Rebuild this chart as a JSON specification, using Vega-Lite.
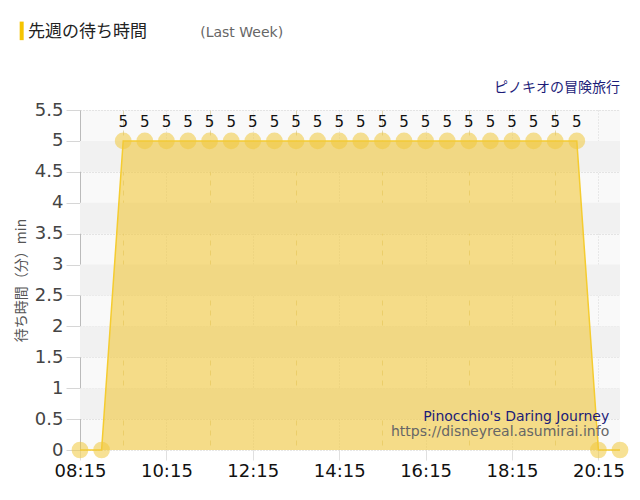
{
  "$schema": "https://vega.github.io/schema/vega-lite/v6.json",
  "width": 540,
  "height": 340,
  "autosize": {"type": "none"},
  "padding": {"left": 80, "top": 110, "right": 20, "bottom": 50},
  "background": "white",
  "config": {
    "view": {"stroke": null, "fill": "#f9f9f9"},
    "font": "DejaVu Sans",
    "axisY": {
      "titleFont": "Noto Sans CJK JP",
      "titleFontSize": 14,
      "titleFontWeight": "normal",
      "titleColor": "#555",
      "titlePadding": 6,
      "labelFontSize": 18,
      "labelColor": "#444",
      "labelPadding": 3,
      "labelOverlap": false,
      "tickSize": 14,
      "tickColor": "#d6d6d6",
      "domainColor": "#bbb",
      "gridColor": "#cfcfcf",
      "gridDash": [1, 2]
    }
  },
  "title": {
    "text": "先週の待ち時間",
    "anchor": "start",
    "frame": "group",
    "dx": -52,
    "offset": -21,
    "font": "Noto Sans CJK JP",
    "fontSize": 17,
    "fontWeight": "normal",
    "color": "#222"
  },
  "datasets": {
    "waits": [
      {"time": "2024-01-01 08:15", "wait": 0},
      {"time": "2024-01-01 08:45", "wait": 0},
      {"time": "2024-01-01 09:15", "wait": 5},
      {"time": "2024-01-01 09:45", "wait": 5},
      {"time": "2024-01-01 10:15", "wait": 5},
      {"time": "2024-01-01 10:45", "wait": 5},
      {"time": "2024-01-01 11:15", "wait": 5},
      {"time": "2024-01-01 11:45", "wait": 5},
      {"time": "2024-01-01 12:15", "wait": 5},
      {"time": "2024-01-01 12:45", "wait": 5},
      {"time": "2024-01-01 13:15", "wait": 5},
      {"time": "2024-01-01 13:45", "wait": 5},
      {"time": "2024-01-01 14:15", "wait": 5},
      {"time": "2024-01-01 14:45", "wait": 5},
      {"time": "2024-01-01 15:15", "wait": 5},
      {"time": "2024-01-01 15:45", "wait": 5},
      {"time": "2024-01-01 16:15", "wait": 5},
      {"time": "2024-01-01 16:45", "wait": 5},
      {"time": "2024-01-01 17:15", "wait": 5},
      {"time": "2024-01-01 17:45", "wait": 5},
      {"time": "2024-01-01 18:15", "wait": 5},
      {"time": "2024-01-01 18:45", "wait": 5},
      {"time": "2024-01-01 19:15", "wait": 5},
      {"time": "2024-01-01 19:45", "wait": 5},
      {"time": "2024-01-01 20:15", "wait": 0},
      {"time": "2024-01-01 20:45", "wait": 0}
    ],
    "bands": [
      {"lo": 0.5, "hi": 1},
      {"lo": 1.5, "hi": 2},
      {"lo": 2.5, "hi": 3},
      {"lo": 3.5, "hi": 4},
      {"lo": 4.5, "hi": 5}
    ]
  },
  "layer": [
    {
      "data": {"name": "bands"},
      "mark": {"type": "rect", "color": "#f1f1f1"},
      "encoding": {
        "y": {
          "field": "lo",
          "type": "quantitative",
          "scale": {"domain": [0, 5.5], "nice": false},
          "axis": {"title": "待ち時間（分）min", "format": "~g", "values": [0, 0.5, 1, 1.5, 2, 2.5, 3, 3.5, 4, 4.5, 5, 5.5]}
        },
        "y2": {"field": "hi"}
      }
    },
    {
      "data": {"name": "waits"},
      "mark": {
        "type": "area",
        "color": "#f2c83c",
        "opacity": 0.6,
        "line": {"color": "#f5cc30", "strokeWidth": 1.5, "opacity": 1}
      },
      "encoding": {
        "x": {
          "field": "time",
          "type": "temporal",
          "scale": {
            "domain": [
              {"year": 2024, "month": 1, "date": 1, "hours": 8, "minutes": 15},
              {"year": 2024, "month": 1, "date": 1, "hours": 20, "minutes": 45}
            ]
          },
          "axis": {
            "title": null,
            "values": [
              {"year": 2024, "month": 1, "date": 1, "hours": 8, "minutes": 15},
              {"year": 2024, "month": 1, "date": 1, "hours": 8, "minutes": 45},
              {"year": 2024, "month": 1, "date": 1, "hours": 9, "minutes": 15},
              {"year": 2024, "month": 1, "date": 1, "hours": 9, "minutes": 45},
              {"year": 2024, "month": 1, "date": 1, "hours": 10, "minutes": 15},
              {"year": 2024, "month": 1, "date": 1, "hours": 10, "minutes": 45},
              {"year": 2024, "month": 1, "date": 1, "hours": 11, "minutes": 15},
              {"year": 2024, "month": 1, "date": 1, "hours": 11, "minutes": 45},
              {"year": 2024, "month": 1, "date": 1, "hours": 12, "minutes": 15},
              {"year": 2024, "month": 1, "date": 1, "hours": 12, "minutes": 45},
              {"year": 2024, "month": 1, "date": 1, "hours": 13, "minutes": 15},
              {"year": 2024, "month": 1, "date": 1, "hours": 13, "minutes": 45},
              {"year": 2024, "month": 1, "date": 1, "hours": 14, "minutes": 15},
              {"year": 2024, "month": 1, "date": 1, "hours": 14, "minutes": 45},
              {"year": 2024, "month": 1, "date": 1, "hours": 15, "minutes": 15},
              {"year": 2024, "month": 1, "date": 1, "hours": 15, "minutes": 45},
              {"year": 2024, "month": 1, "date": 1, "hours": 16, "minutes": 15},
              {"year": 2024, "month": 1, "date": 1, "hours": 16, "minutes": 45},
              {"year": 2024, "month": 1, "date": 1, "hours": 17, "minutes": 15},
              {"year": 2024, "month": 1, "date": 1, "hours": 17, "minutes": 45},
              {"year": 2024, "month": 1, "date": 1, "hours": 18, "minutes": 15},
              {"year": 2024, "month": 1, "date": 1, "hours": 18, "minutes": 45},
              {"year": 2024, "month": 1, "date": 1, "hours": 19, "minutes": 15},
              {"year": 2024, "month": 1, "date": 1, "hours": 19, "minutes": 45},
              {"year": 2024, "month": 1, "date": 1, "hours": 20, "minutes": 15},
              {"year": 2024, "month": 1, "date": 1, "hours": 20, "minutes": 45}
            ],
            "labelExpr": "hours(datum.value) % 2 == 0 && minutes(datum.value) == 15 ? timeFormat(datum.value, '%H:%M') : ''",
            "labelFontSize": 18,
            "labelColor": "#111",
            "labelPadding": 2,
            "labelFlush": false,
            "labelOverlap": false,
            "domain": false,
            "grid": true,
            "gridColor": {"condition": {"test": "hours(datum.value) % 2 == 0 && minutes(datum.value) == 15", "value": "#d6d6d6"}, "value": "#e0d6b0"},
            "gridDash": {"condition": {"test": "hours(datum.value) % 2 == 0 && minutes(datum.value) == 15", "value": [1, 2]}, "value": [5, 5]},
            "tickSize": 10,
            "tickColor": "#e0e0e0",
            "tickOpacity": {"condition": {"test": "hours(datum.value) % 2 == 0 && minutes(datum.value) == 15", "value": 1}, "value": 0}
          }
        },
        "y": {
          "field": "wait",
          "type": "quantitative",
          "axis": {"title": "待ち時間（分）min", "format": "~g", "values": [0, 0.5, 1, 1.5, 2, 2.5, 3, 3.5, 4, 4.5, 5, 5.5]}
        }
      }
    },
    {
      "data": {"name": "waits"},
      "mark": {"type": "circle", "size": 280, "color": "#f0c83c", "opacity": 0.55},
      "encoding": {
        "x": {"field": "time", "type": "temporal"},
        "y": {
          "field": "wait",
          "type": "quantitative",
          "axis": {"title": "待ち時間（分）min", "format": "~g", "values": [0, 0.5, 1, 1.5, 2, 2.5, 3, 3.5, 4, 4.5, 5, 5.5]}
        }
      }
    },
    {
      "data": {"name": "waits"},
      "transform": [{"filter": "datum.wait > 0"}],
      "mark": {"type": "text", "dy": -19, "fontSize": 15, "color": "#111"},
      "encoding": {
        "x": {"field": "time", "type": "temporal"},
        "y": {
          "field": "wait",
          "type": "quantitative",
          "axis": {"title": "待ち時間（分）min", "format": "~g", "values": [0, 0.5, 1, 1.5, 2, 2.5, 3, 3.5, 4, 4.5, 5, 5.5]}
        },
        "text": {"field": "wait", "type": "quantitative"}
      }
    },
    {
      "data": {"values": [{}]},
      "mark": {"type": "text", "text": "Pinocchio's Daring Journey", "align": "right", "baseline": "alphabetic", "fontSize": 14, "color": "#1c1c78"},
      "encoding": {
        "x": {"datum": {"year": 2024, "month": 1, "date": 1, "hours": 20, "minutes": 30}, "type": "temporal"},
        "y": {
          "datum": 0.47,
          "type": "quantitative",
          "axis": {"title": "待ち時間（分）min", "format": "~g", "values": [0, 0.5, 1, 1.5, 2, 2.5, 3, 3.5, 4, 4.5, 5, 5.5]}
        }
      }
    },
    {
      "data": {"values": [{}]},
      "mark": {"type": "text", "text": "https://disneyreal.asumirai.info", "align": "right", "baseline": "alphabetic", "fontSize": 14, "color": "#666"},
      "encoding": {
        "x": {"datum": {"year": 2024, "month": 1, "date": 1, "hours": 20, "minutes": 30}, "type": "temporal"},
        "y": {
          "datum": 0.23,
          "type": "quantitative",
          "axis": {"title": "待ち時間（分）min", "format": "~g", "values": [0, 0.5, 1, 1.5, 2, 2.5, 3, 3.5, 4, 4.5, 5, 5.5]}
        }
      }
    },
    {
      "data": {"values": [{}]},
      "mark": {"type": "text", "text": "ピノキオの冒険旅行", "align": "right", "baseline": "alphabetic", "font": "Noto Sans CJK JP", "fontSize": 14, "color": "#1c1c78"},
      "encoding": {
        "x": {"datum": {"year": 2024, "month": 1, "date": 1, "hours": 20, "minutes": 45}, "type": "temporal"},
        "y": {
          "datum": 5.79,
          "type": "quantitative",
          "axis": {"title": "待ち時間（分）min", "format": "~g", "values": [0, 0.5, 1, 1.5, 2, 2.5, 3, 3.5, 4, 4.5, 5, 5.5]}
        }
      }
    },
    {
      "data": {"values": [{}]},
      "mark": {"type": "text", "text": "(Last Week)", "align": "left", "baseline": "alphabetic", "fontSize": 14, "color": "#666"},
      "encoding": {
        "x": {"datum": {"year": 2024, "month": 1, "date": 1, "hours": 11, "minutes": 2}, "type": "temporal"},
        "y": {
          "datum": 6.68,
          "type": "quantitative",
          "axis": {"title": "待ち時間（分）min", "format": "~g", "values": [0, 0.5, 1, 1.5, 2, 2.5, 3, 3.5, 4, 4.5, 5, 5.5]}
        }
      }
    },
    {
      "data": {"values": [{}]},
      "mark": {"type": "rule", "color": "#f5c400", "strokeWidth": 4},
      "encoding": {
        "x": {"datum": {"year": 2024, "month": 1, "date": 1, "hours": 6, "minutes": 54}, "type": "temporal"},
        "y": {
          "datum": 6.93,
          "type": "quantitative",
          "axis": {"title": "待ち時間（分）min", "format": "~g", "values": [0, 0.5, 1, 1.5, 2, 2.5, 3, 3.5, 4, 4.5, 5, 5.5]}
        },
        "y2": {"datum": 6.63}
      }
    }
  ]
}
